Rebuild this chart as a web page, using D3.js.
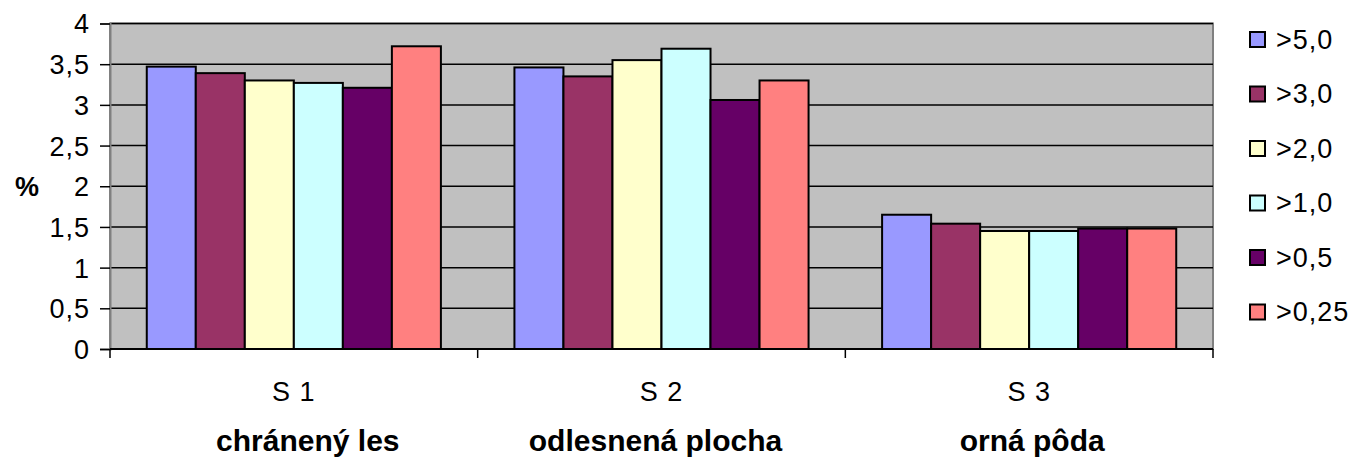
<!DOCTYPE html>
<html>
<head>
<meta charset="utf-8">
<script src="https://cdn.jsdelivr.net/npm/d3@7"></script>
<style>
  body { margin: 0; background: #fff; }
  text { font-family: "Liberation Sans", Arial, sans-serif; fill: #000; }
</style>
</head>
<body>
<div id="chart"></div>
<script>
var sites = ["S 1", "S 2", "S 3"],
    siteNames = ["chránený les", "odlesnená plocha", "orná pôda"],
    series = [">5,0", ">3,0", ">2,0", ">1,0", ">0,5", ">0,25"],
    colors = ["#9999ff", "#993366", "#ffffcc", "#ccffff", "#660066", "#ff8080"],
    yTicks = [0, 0.5, 1, 1.5, 2, 2.5, 3, 3.5, 4];

// values per series, one per site (S 1, S 2, S 3)
var v50  = [3.47, 3.46, 1.65],
    v30  = [3.39, 3.35, 1.54],
    v20  = [3.30, 3.55, 1.45],
    v10  = [3.27, 3.69, 1.45],
    v05  = [3.21, 3.06, 1.48],
    v025 = [3.72, 3.30, 1.48];

var values = [v50, v30, v20, v10, v05, v025];

var margin = { top: 23.5, left: 110 },
    width = 1103,
    height = 325.5;

var svg = d3.select("#chart").append("svg")
    .attr("width", 1356)
    .attr("height", 459);

var g = svg.append("g")
    .attr("transform", "translate(" + margin.left + "," + margin.top + ")");

var x0 = d3.scaleBand().domain(sites).range([0, width]).paddingInner(0).paddingOuter(0);
var x1 = d3.scaleBand().domain(series).range([0, x0.bandwidth()]).paddingInner(0).paddingOuter(0.75);
var y = d3.scaleLinear().domain([0, 4]).range([height, 0]);

var comma = d3.formatLocale({ decimal: ",", thousands: " ", grouping: [3], currency: ["", ""] }).format("~g");

// plot background
g.append("rect")
    .attr("width", width)
    .attr("height", height)
    .style("fill", "#c0c0c0")
    .style("stroke", "#808080")
    .style("stroke-width", 2);

// gridlines
g.selectAll(".grid")
    .data(yTicks.filter(function(d) { return d > 0; }))
    .enter().append("line")
    .attr("x1", 0)
    .attr("x2", width)
    .attr("y1", function(d) { return y(d); })
    .attr("y2", function(d) { return y(d); })
    .style("stroke", "#000")
    .style("stroke-width", 1.5);

// y axis
var yAxis = g.append("g")
    .call(d3.axisLeft(y).tickValues(yTicks).tickSize(10).tickPadding(10).tickFormat(comma));
yAxis.select(".domain").style("stroke", "#808080").style("stroke-width", 2);
yAxis.selectAll(".tick line").style("stroke", "#000").style("stroke-width", 1.5);
yAxis.selectAll(".tick text")
    .style("font-size", "27px")
    .style("letter-spacing", "1px")
    .attr("dy", "0.35em");

// bars
var groups = g.selectAll(".site")
    .data(sites)
    .enter().append("g")
    .attr("class", "site")
    .attr("transform", function(d) { return "translate(" + x0(d) + ",0)"; });

groups.selectAll("rect")
    .data(function(d, i) {
        return series.map(function(s, j) { return { s: s, v: values[j][i], c: colors[j] }; });
    })
    .enter().append("rect")
    .attr("x", function(d) { return x1(d.s); })
    .attr("y", function(d) { return y(d.v); })
    .attr("width", x1.bandwidth())
    .attr("height", function(d) { return height - y(d.v); })
    .style("fill", function(d) { return d.c; })
    .style("stroke", "#000")
    .style("stroke-width", 2);

// x axis
var xAxis = g.append("g")
    .attr("transform", "translate(0," + height + ")");
xAxis.append("line")
    .attr("x1", 0).attr("x2", width)
    .style("stroke", "#000").style("stroke-width", 2);
xAxis.selectAll(".xtick")
    .data(d3.range(sites.length + 1))
    .enter().append("line")
    .attr("x1", function(d) { return d * x0.step(); })
    .attr("x2", function(d) { return d * x0.step(); })
    .attr("y1", 0).attr("y2", 9)
    .style("stroke", "#000").style("stroke-width", 1.5);

xAxis.selectAll(".xlabel")
    .data(sites)
    .enter().append("text")
    .attr("x", function(d) { return x0(d) + x0.bandwidth() / 2; })
    .attr("y", 52)
    .attr("text-anchor", "middle")
    .style("font-size", "27px")
    .style("letter-spacing", "1px")
    .text(function(d) { return d; });

// site names, shifted a little like in the original text boxes
var nameShift = [14, -6, 3];
xAxis.selectAll(".sitename")
    .data(siteNames)
    .enter().append("text")
    .attr("x", function(d, i) { return x0(sites[i]) + x0.bandwidth() / 2 + nameShift[i]; })
    .attr("y", 102)
    .attr("text-anchor", "middle")
    .style("font-size", "30px")
    .style("font-weight", "bold")
    .text(function(d) { return d; });

// % label
svg.append("text")
    .attr("x", 27)
    .attr("y", y(2) + margin.top)
    .attr("dy", "0.35em")
    .attr("text-anchor", "middle")
    .style("font-size", "27px")
    .style("font-weight", "bold")
    .text("%");

// legend
var legend = svg.selectAll(".legend")
    .data(series)
    .enter().append("g")
    .attr("class", "legend")
    .attr("transform", function(d, i) { return "translate(1250," + (39.5 + i * 54.5) + ")"; });

legend.append("rect")
    .attr("x", 0)
    .attr("y", -7.5)
    .attr("width", 15)
    .attr("height", 15)
    .style("fill", function(d, i) { return colors[i]; })
    .style("stroke", "#000")
    .style("stroke-width", 2);

legend.append("text")
    .attr("x", 26)
    .attr("dy", "0.35em")
    .style("font-size", "27px")
    .style("letter-spacing", "1px")
    .text(function(d) { return d; });
</script>
</body>
</html>
